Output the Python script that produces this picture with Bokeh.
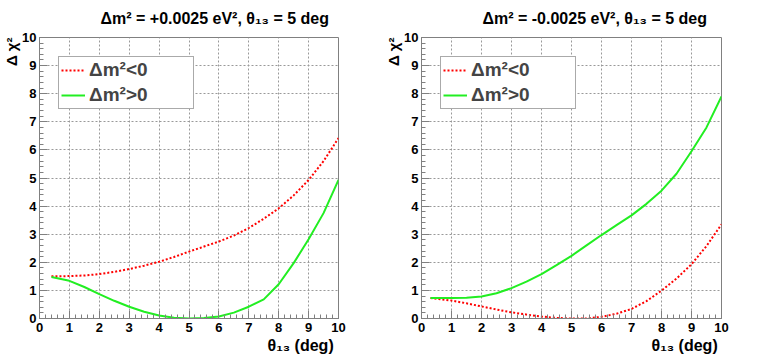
import math
from bokeh.plotting import figure
from bokeh.models import Range1d, SingleIntervalTicker, Title, Legend, LegendItem
from bokeh.layouts import row
from bokeh.embed import file_html
from bokeh.resources import INLINE

# ---- data ----
theta_left = [0.4, 1, 1.5, 2, 2.5, 3, 3.5, 4, 4.5, 5, 5.5, 6, 6.5, 7, 7.5, 8, 8.5, 9, 9.5, 10]
left_neg = [1.50, 1.51, 1.53, 1.58, 1.66, 1.76, 1.88, 2.02, 2.19, 2.38, 2.56, 2.74, 2.95,
            3.22, 3.55, 3.92, 4.38, 4.93, 5.60, 6.42]
left_pos = [1.48, 1.34, 1.12, 0.87, 0.63, 0.42, 0.24, 0.11, 0.03, 0.00, 0.02, 0.07, 0.21,
            0.42, 0.68, 1.22, 1.97, 2.82, 3.75, 4.93]

theta_right = [0.3, 1, 1.5, 2, 2.5, 3, 3.5, 4, 4.5, 5, 5.5, 6, 6.5, 7, 7.5, 8, 8.5, 9, 9.5, 10]
right_neg = [0.73, 0.64, 0.54, 0.43, 0.32, 0.22, 0.14, 0.07, 0.02, 0.00, 0.00, 0.06, 0.17,
             0.34, 0.62, 0.99, 1.42, 1.93, 2.58, 3.35]
right_pos = [0.73, 0.73, 0.74, 0.78, 0.90, 1.08, 1.31, 1.58, 1.90, 2.23, 2.60, 2.97, 3.32,
             3.67, 4.08, 4.55, 5.15, 5.95, 6.80, 7.90]

titles = ["Δm² = +0.0025 eV², θ₁₃ = 5 deg", "Δm² = -0.0025 eV², θ₁₃ = 5 deg"]
legend_labels = ["Δm²<0", "Δm²>0"]
x_title = "θ₁₃ (deg)"
y_title = "Δ χ²"

FONT = "Liberation Sans"
FRAME_W = 300
FIG_H = 354


def make(width, left, theta, neg, pos, title_text, title_offset, xt_offset):
    p = figure(width=width, height=FIG_H, title=None,
               x_range=Range1d(0, 10), y_range=Range1d(0, 10),
               output_backend="svg", toolbar_location=None,
               min_border_left=left, min_border_right=width - left - FRAME_W,
               min_border_top=34, min_border_bottom=FIG_H - 34 - 284)
    p.outline_line_color = "#808080"
    p.background_fill_color = "white"
    p.border_fill_color = "white"
    for ax in (p.xaxis[0], p.yaxis[0]):
        ax.ticker = SingleIntervalTicker(interval=1, num_minor_ticks=5)
        ax.major_tick_in = 8
        ax.major_tick_out = 0
        ax.minor_tick_in = 4
        ax.minor_tick_out = 0
        ax.axis_line_color = "#808080"
        ax.major_tick_line_color = "#808080"
        ax.minor_tick_line_color = "#808080"
        ax.major_label_text_font = FONT
        ax.major_label_text_font_style = "bold"
        ax.major_label_text_font_size = "13px"
        ax.major_label_text_color = "black"
    p.xaxis.major_label_standoff = 4
    p.yaxis.major_label_standoff = 3
    for g in (p.xgrid[0], p.ygrid[0]):
        g.grid_line_color = "#999999"
        g.grid_line_dash = "2 2"
        g.grid_line_width = 1

    r_neg = p.line(theta, neg, line_color="#ff0000", line_width=2, line_dash="2 2")
    r_pos = p.line(theta, pos, line_color="#22ee22", line_width=2)

    legend = Legend(items=[LegendItem(label=legend_labels[0], renderers=[r_neg]),
                           LegendItem(label=legend_labels[1], renderers=[r_pos])],
                    location=(19, 209), margin=0, padding=2, spacing=3,
                    glyph_width=24, glyph_height=20, label_height=20, label_width=102,
                    label_standoff=4,
                    label_text_font=FONT, label_text_font_style="bold",
                    label_text_font_size="19px",
                    border_line_color="#555555", border_line_width=1,
                    background_fill_color="white", background_fill_alpha=1.0)
    p.add_layout(legend)

    p.add_layout(Title(text=title_text, align="left", offset=title_offset,
                       vertical_align="top",
                       text_font=FONT, text_font_style="bold", text_font_size="16px",
                       text_color="black", standoff=18), "above")
    p.add_layout(Title(text=y_title, align="right", offset=0,
                       text_font=FONT, text_font_style="bold", text_font_size="15px",
                       text_color="black", standoff=0), "left")
    p.add_layout(Title(text=x_title, align="left", offset=xt_offset,
                       text_font=FONT, text_font_style="bold", text_font_size="16px",
                       text_color="black", standoff=0), "below")
    return p


p1 = make(380, 38, theta_left, left_neg, left_pos, titles[0], 61, 228)
p2 = make(383, 41, theta_right, right_neg, right_pos, titles[1], 61, 230)

layout = row(p1, p2)
open("out.html", "w").write(file_html(layout, INLINE))
